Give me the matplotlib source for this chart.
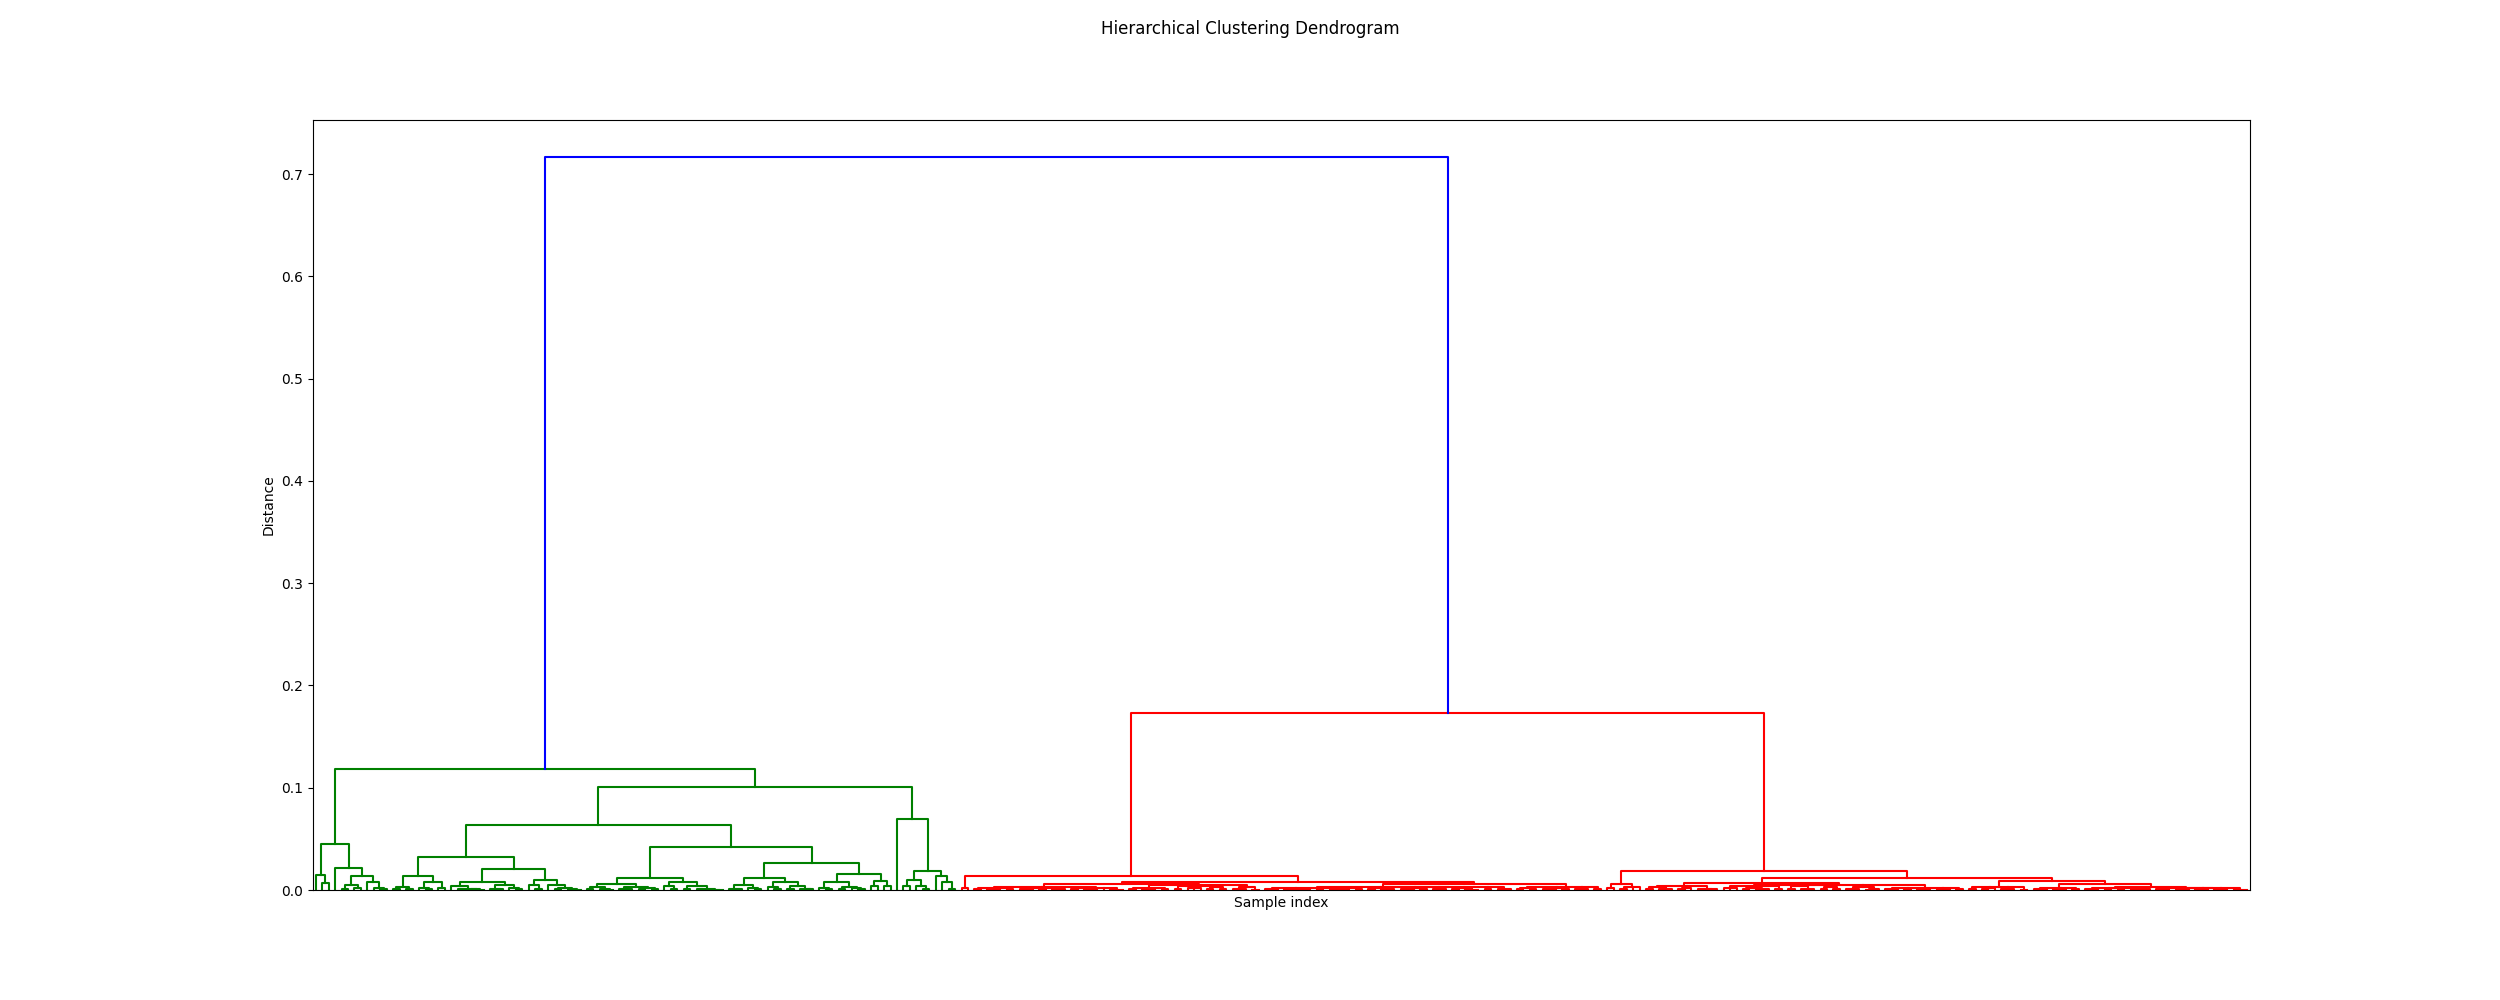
# dendrogram.py
#
# Hierarchical clustering dendrogram, drawn from a hand-read merge tree
# node = [height, child, child, ...], leaf = o
#===================================================================

import numpy as np
import matplotlib.pyplot as plt

o = 0  # one sample

#=============================
# Green cluster (left part)
#=============================
green_a = [0.045,
           [0.015, o, [0.0066, o, o]],
           [0.0218, o, [0.0139, [0.0048, [0.001, o, o], [0.0015, o, o]],
                        [0.008, o, [0.0015, o, [0.0005, o, o]]]]]]
green_418 = [0.0139, [0.0031, [0.001, o, o], [0.0012, o, o]],
             [0.008, [0.0015, o, [0.0007, o, o]], [0.0015, o, o]]]
green_482 = [0.0077, [0.004, o, [0.0012, [0.0005, o, o], [0.0008, o, [0.0003, o, o]]]],
             [0.0045, [0.001, o, [0.0005, o, o]], [0.002, o, [0.0008, o, o]]]]
green_545 = [0.0094, [0.0048, o, [0.001, o, o]],
             [0.0048, o, [0.002, [0.001, o, o], [0.0005, o, [0.0003, o, o]]]]]
green_617 = [0.0055, [0.0025, [0.001, o, o], [0.0012, o, [0.0004, o, o]]],
             [0.003, [0.001, o, [0.0005, o, o]], [0.0015, [0.0006, o, o], [0.0008, o, o]]]]
green_684 = [0.0077, [0.0038, o, [0.001, o, o]],
             [0.0038, [0.001, o, o], [0.0012, [0.0005, o, o], [0.0004, o, [0.0002, o, o]]]]]
green_765 = [0.012, [0.0048, [0.001, o, [0.0005, o, o]], [0.002, o, [0.0008, o, o]]],
             [0.0075, [0.003, o, [0.001, o, o]], [0.0035, [0.001, o, o], [0.0012, o, [0.0005, o, o]]]]]
green_832 = [0.0074, [0.002, o, [0.001, o, o]],
             [0.003, [0.001, o, o], [0.0015, o, [0.0005, o, o]]]]
green_857 = [0.0155, green_832, [0.0087, [0.004, o, o], [0.004, o, o]]]
green_br = [0.0693, o, [0.0188, [0.01, [0.0038, o, o], [0.0038, o, [0.001, o, o]]],
                        [0.0136, o, [0.0074, o, [0.001, o, o]]]]]

green_b = [0.1009,
           [0.0634, [0.0325, green_418, [0.0201, green_482, green_545]],
                    [0.0422, [0.012, green_617, green_684], [0.0266, green_765, green_857]]],
           green_br]
green = [0.118, green_a, green_b]

#=============================
# Red cluster (right part)
#=============================
red_pair = [0.002, o, o]
red_a1 = [0.003, [0.0018, [0.0008, o, o], [0.0005, o, o, o], [0.001, o, o]],
          [0.0022, [0.0006, o, o, o], [0.0012, o, o], [0.0009, o, o, o]],
          [0.0015, [0.0005, o, o], [0.0007, o, o, o], o, [0.0004, o, o, o]]]
red_a2 = [0.0045, [0.002, [0.0008, o, o], [0.001, o, o, o], [0.0005, o, o]],
          [0.004, [0.0035, [0.001, o, o], [0.0015, o, o, o]], [0.003, [0.0006, o, o], [0.0009, o, o]]],
          [0.0025, [0.0007, o, o, o], [0.0004, o, o]]]
red_b1 = [0.0018, [0.0009, o, o, o], [0.0012, [0.0004, o, o], [0.0006, o, o, o]],
          [0.0007, o, o], [0.001, o, o, o, o], [0.0005, o, o]]
red_b2 = [0.0025, [0.0015, [0.0006, o, o], [0.0008, o, o, o]], [0.002, [0.0005, o, o, o], [0.001, o, o]],
          [0.0012, o, o, o], [0.0018, [0.0007, o, o], [0.0004, o, o, o]], [0.0009, o, o],
          [0.0006, o, o, o]]
red_b3 = [0.003, [0.0015, [0.0005, o, o], [0.0008, o, o]], [0.002, [0.001, o, o, o], [0.0006, o, o]],
          [0.0012, o, o, o], [0.0008, o, o]]
red_c = [0.0055, [0.002, o, o], [0.003, [0.001, o, o], o, o]]
red_d1 = [0.004, [0.0025, [0.0008, o, o], [0.0012, o, o, o]], [0.0018, [0.0006, o, o], o],
          [0.001, o, o, o, o]]
red_d2 = [0.005, [0.0035, [0.0015, o, o, o], [0.002, [0.0006, o, o], [0.001, o, o, o]], [0.001, o, o]],
          [0.0045, [0.004, [0.0012, o, o], [0.0008, o, o, o]], [0.003, [0.0005, o, o], [0.0009, o, o]]],
          [0.0032, [0.0014, o, o, o], [0.0011, [0.0004, o, o], o]],
          [0.0022, [0.0007, o, o, o], [0.0005, o, o], [0.0009, o, o, o], [0.001, o, o, o],
           [0.0006, o, o]]]
red_e = [0.003, [0.0012, o, o], [0.0018, [0.0005, o, o], o], [0.0008, o, o, o], [0.0004, o, o]]
red_f = [0.002, [0.0008, o, o, o], [0.0012, [0.0004, o, o], o], [0.0005, o, o]]
red_g = [0.002, [0.001, o, o, o], [0.0015, [0.0005, o, o], [0.0007, o, o]], [0.0006, o, o, o, o]]
red_h1 = [0.0012, o, [0.0005, o, o]]
red_h2 = [0.0015, [0.001, o, o, o], [0.0008, [0.0003, o, o], o], [0.0006, o, o, o], [0.0004, o, o, o]]

red_left = [0.0136, red_pair,
            [0.008, [0.0055, red_a1, red_a2], [0.0055, [0.003, red_b1, red_b2], red_b3]]]
red_right = [0.019, red_c,
             [0.0122, [0.0064, red_d1, red_d2],
                      [0.009, red_e, [0.0055, red_f, [0.0033, red_g, [0.002, red_h1, red_h2]]]]]]
red = [0.173, red_left, red_right]

tree = [0.717, green, red]

#===================
# Drawing helpers
#===================
palette = ['g', 'r']
cut = 0.7 * tree[0]
state = {'leaf': 0, 'col': 0}

fig = plt.figure(figsize=(25, 10), dpi=100)
ax = fig.add_subplot(111)


def walk(node, color):
    # leaf: place at 5, 15, 25, ...
    if not isinstance(node, list):
        x = 5 + 10 * state['leaf']
        state['leaf'] += 1
        return x, 0.0
    h = node[0]
    if h >= cut:
        c = 'b'
        sub = None
    else:
        if color is None:
            color = palette[state['col'] % len(palette)]
            state['col'] += 1
        c = color
        sub = color
    kids = [walk(ch, sub) for ch in node[1:]]
    xs = [k[0] for k in kids]
    ax.plot([xs[0], xs[0], xs[-1], xs[-1]], [kids[0][1], h, h, kids[-1][1]], color=c)
    for x, kh in kids[1:-1]:
        ax.plot([x, x], [kh, h], color=c)
    return np.mean(xs), h


walk(tree, None)
n = state['leaf']

ax.set_xlim(0, 10 * n)
ax.set_ylim(0, tree[0] * 1.05)
ax.set_xticks([])
ax.set_xlabel('Sample index')
ax.set_ylabel('Distance')
fig.suptitle('Hierarchical Clustering Dendrogram')

fig.savefig('out.png')
